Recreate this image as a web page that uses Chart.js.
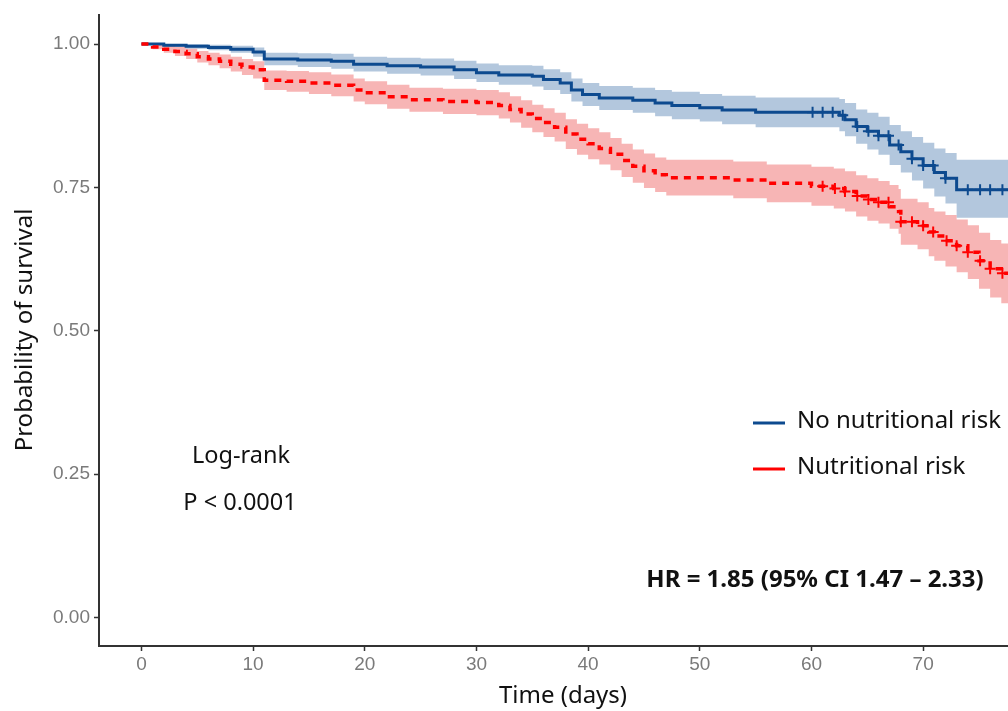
<!DOCTYPE html>
<html>
<head>
<meta charset="utf-8">
<script src="https://cdn.jsdelivr.net/npm/chart.js@4.4.1/dist/chart.umd.min.js"></script>
<style>
  html, body { margin: 0; padding: 0; background: #ffffff; }
  #wrap { position: relative; width: 1008px; height: 711px; }
</style>
</head>
<body>
<div id="wrap"><canvas id="c" width="1008" height="711"></canvas></div>
<script>
// ---- Data ----
const blueTime  = [0, 2, 4, 6, 8, 10, 11, 14, 17, 19, 22, 25, 28, 30, 32, 35, 36, 37.5, 38.5, 39.5, 41, 44, 46, 47.5, 50, 52, 55, 62.5, 63, 64, 65, 66, 67, 68, 69, 70, 71, 72, 73, 80];
const blueSurv  = [1.000, 0.998, 0.996, 0.994, 0.991, 0.986, 0.974, 0.972, 0.970, 0.965, 0.962, 0.960, 0.955, 0.950, 0.946, 0.944, 0.938, 0.932, 0.920, 0.912, 0.906, 0.902, 0.897, 0.893, 0.889, 0.885, 0.881, 0.876, 0.868, 0.856, 0.848, 0.840, 0.824, 0.812, 0.800, 0.788, 0.776, 0.766, 0.746, 0.746];
const blueUpper = [1.000, 1.000, 1.000, 0.999, 0.997, 0.994, 0.985, 0.984, 0.983, 0.978, 0.976, 0.975, 0.971, 0.966, 0.963, 0.962, 0.956, 0.951, 0.940, 0.932, 0.927, 0.924, 0.920, 0.917, 0.913, 0.910, 0.907, 0.904, 0.897, 0.886, 0.880, 0.873, 0.859, 0.848, 0.838, 0.828, 0.818, 0.810, 0.798, 0.798];
const blueLower = [1.000, 0.995, 0.992, 0.989, 0.985, 0.978, 0.963, 0.960, 0.957, 0.952, 0.948, 0.945, 0.939, 0.934, 0.929, 0.926, 0.920, 0.913, 0.900, 0.892, 0.885, 0.880, 0.874, 0.869, 0.865, 0.860, 0.855, 0.848, 0.839, 0.826, 0.816, 0.807, 0.789, 0.776, 0.762, 0.748, 0.734, 0.722, 0.697, 0.697];

const redTime  = [0, 1, 2, 3, 4, 5, 6, 7, 8, 9, 10, 11, 13, 15, 17, 19, 20, 22, 24, 27, 30, 32, 33, 34, 35, 36, 37, 38, 39, 40, 41, 42, 43, 44, 45, 46, 47, 53, 56, 60, 62, 63, 64, 65, 66, 67, 67.8, 68, 69.5, 70.5, 71, 72, 73, 74, 75, 76, 77, 80];
const redSurv  = [1.000, 0.995, 0.991, 0.987, 0.983, 0.978, 0.974, 0.970, 0.965, 0.960, 0.955, 0.937, 0.935, 0.932, 0.928, 0.920, 0.915, 0.908, 0.903, 0.900, 0.898, 0.893, 0.886, 0.878, 0.870, 0.863, 0.855, 0.843, 0.834, 0.826, 0.818, 0.808, 0.797, 0.787, 0.779, 0.772, 0.767, 0.763, 0.757, 0.752, 0.748, 0.743, 0.735, 0.729, 0.724, 0.716, 0.708, 0.690, 0.683, 0.672, 0.665, 0.657, 0.648, 0.637, 0.622, 0.608, 0.600, 0.600];
const redUpper = [1.000, 0.999, 0.997, 0.995, 0.992, 0.988, 0.985, 0.982, 0.978, 0.974, 0.970, 0.954, 0.953, 0.951, 0.947, 0.940, 0.935, 0.929, 0.924, 0.922, 0.920, 0.916, 0.909, 0.902, 0.894, 0.888, 0.880, 0.869, 0.861, 0.853, 0.846, 0.836, 0.826, 0.816, 0.809, 0.802, 0.798, 0.795, 0.790, 0.786, 0.783, 0.778, 0.771, 0.766, 0.761, 0.754, 0.747, 0.730, 0.724, 0.714, 0.708, 0.702, 0.694, 0.684, 0.671, 0.658, 0.652, 0.652];
const redLower = [1.000, 0.991, 0.985, 0.979, 0.974, 0.968, 0.963, 0.958, 0.952, 0.946, 0.940, 0.920, 0.917, 0.913, 0.909, 0.900, 0.895, 0.887, 0.882, 0.878, 0.876, 0.870, 0.863, 0.854, 0.846, 0.838, 0.830, 0.817, 0.807, 0.799, 0.790, 0.780, 0.768, 0.758, 0.749, 0.742, 0.736, 0.731, 0.724, 0.718, 0.713, 0.708, 0.699, 0.692, 0.687, 0.678, 0.669, 0.650, 0.642, 0.630, 0.622, 0.612, 0.602, 0.590, 0.573, 0.558, 0.548, 0.548];

const blueCensor = [60.1, 61.0, 61.9, 62.8, 64.1, 65.1, 66.0, 66.9, 67.8, 69.0, 70.0, 70.9, 72.0, 74.0, 75.1, 76.0, 77.1];
const redCensor  = [61.0, 62.1, 63.0, 64.1, 65.1, 66.0, 66.9, 68.0, 69.0, 70.0, 70.9, 72.1, 73.0, 74.0, 75.1, 76.0, 77.1];

const xTickValues = [0, 10, 20, 30, 40, 50, 60, 70];
const yTickValues = [0, 0.25, 0.5, 0.75, 1.0];
const yTickLabels = ['0.00', '0.25', '0.50', '0.75', '1.00'];

const seriesNames = ['No nutritional risk', 'Nutritional risk'];

// ---- helpers ----
const pts = (t, v) => t.map((x, i) => ({ x: x, y: v[i] }));
function stepAt(t, times, surv) {
  let s = surv[0];
  for (let i = 0; i < times.length; i++) { if (times[i] <= t) s = surv[i]; }
  return s;
}
const censorPts = (c, times, surv) => c.map(t => ({ x: t, y: stepAt(t, times, surv) }));

const BLUE = '#0d4a8f', BLUE_BAND = '#b3c7dd';
const RED = '#ff0000';
const FONT = '"Noto Sans", "Open Sans", sans-serif';

const annot = {
  id: 'annot',
  afterDraw(chart) {
    const ctx = chart.ctx;
    ctx.save();
    ctx.fillStyle = '#111';
    ctx.textBaseline = 'middle';
    ctx.font = '24px ' + FONT;
    // axis titles
    ctx.textAlign = 'center';
    ctx.save();
    ctx.translate(25, 330);
    ctx.rotate(-Math.PI / 2);
    ctx.fillText('Probability of survival', 0, 0);
    ctx.restore();
    ctx.fillText('Time (days)', 563, 696);
    // log-rank
    ctx.font = '23.5px ' + FONT;
    ctx.fillText('Log-rank', 241, 456);
    ctx.fillText('P < 0.0001', 240, 503);
    // legend
    ctx.lineWidth = 3;
    ctx.strokeStyle = BLUE;
    ctx.beginPath(); ctx.moveTo(753, 423); ctx.lineTo(785, 423); ctx.stroke();
    ctx.strokeStyle = RED;
    ctx.beginPath(); ctx.moveTo(753, 469); ctx.lineTo(785, 469); ctx.stroke();
    ctx.textAlign = 'left';
    ctx.font = '24px ' + FONT;
    ctx.fillText(seriesNames[0], 797, 421);
    ctx.fillText(seriesNames[1], 797, 467);
    // HR
    ctx.textAlign = 'center';
    ctx.font = 'bold 24px ' + FONT;
    ctx.fillText('HR = 1.85 (95% CI 1.47 \u2013 2.33)', 815, 580);
    ctx.restore();
  }
};

new Chart(document.getElementById('c'), {
  type: 'line',
  data: {
    datasets: [
      { label: 'blueUpper', data: pts(blueTime, blueUpper), stepped: 'before', borderWidth: 0, pointRadius: 0, fill: false, order: 10, borderColor: 'rgba(0,0,0,0)' },
      { label: 'blueLower', data: pts(blueTime, blueLower), stepped: 'before', borderWidth: 0, pointRadius: 0, fill: '-1', backgroundColor: BLUE_BAND, order: 10, borderColor: 'rgba(0,0,0,0)' },
      { label: 'redUpper', data: pts(redTime, redUpper), stepped: 'before', borderWidth: 0, pointRadius: 0, fill: false, order: 9, borderColor: 'rgba(0,0,0,0)' },
      { label: 'redLower', data: pts(redTime, redLower), stepped: 'before', borderWidth: 0, pointRadius: 0, fill: '-1', backgroundColor: 'rgba(240,120,120,0.55)', order: 9, borderColor: 'rgba(0,0,0,0)' },
      { label: seriesNames[0], data: pts(blueTime, blueSurv), stepped: 'before', borderColor: BLUE, borderWidth: 3, pointRadius: 0, fill: false, order: 2 },
      { label: seriesNames[1], data: pts(redTime, redSurv), stepped: 'before', borderColor: RED, borderWidth: 3.5, borderDash: [7, 6], pointRadius: 0, fill: false, order: 1 },
      { label: 'blueCensor', data: censorPts(blueCensor, blueTime, blueSurv), showLine: false, pointStyle: 'cross', pointRadius: 5.5, pointBorderWidth: 2, borderColor: BLUE, order: 0 },
      { label: 'redCensor', data: censorPts(redCensor, redTime, redSurv), showLine: false, pointStyle: 'cross', pointRadius: 5.5, pointBorderWidth: 2, borderColor: RED, order: 0 }
    ]
  },
  options: {
    responsive: false,
    animation: false,
    layout: { autoPadding: false, padding: { top: 15, right: 0, left: 0, bottom: 0 } },
    plugins: { legend: { display: false }, tooltip: { enabled: false } },
    scales: {
      x: {
        type: 'linear', min: -3.8, max: 77.6,
        afterBuildTicks: s => { s.ticks = xTickValues.map(v => ({ value: v })); },
        afterFit: s => { s.height = 65; },
        grid: { display: true, drawOnChartArea: false, drawTicks: true, tickLength: 5, tickWidth: 1.5, tickColor: '#333' },
        border: { display: true, color: '#333', width: 2 },
        ticks: { color: '#7a7a7a', font: { family: '"Liberation Sans", Arial, sans-serif', size: 19 }, padding: 2, maxRotation: 0, autoSkip: false, callback: v => String(v) }
      },
      y: {
        type: 'linear', min: -0.05, max: 1.05,
        afterBuildTicks: s => { s.ticks = yTickValues.map(v => ({ value: v })); },
        afterFit: s => { s.width = 99; },
        grid: { display: true, drawOnChartArea: false, drawTicks: true, tickLength: 5, tickWidth: 1.5, tickColor: '#333' },
        border: { display: true, color: '#333', width: 2 },
        ticks: { color: '#7a7a7a', font: { family: '"Liberation Sans", Arial, sans-serif', size: 19 }, padding: 4, autoSkip: false, callback: v => yTickLabels[yTickValues.indexOf(v)] }
      }
    }
  },
  plugins: [annot]
});
</script>
</body>
</html>
